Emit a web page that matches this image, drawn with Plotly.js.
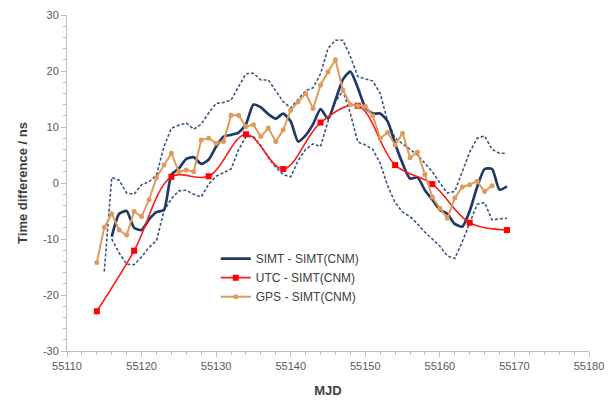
<!DOCTYPE html>
<html>
<head>
<meta charset="utf-8">
<script src="https://cdn.plot.ly/plotly-3.0.1.min.js"></script>
<style>html,body{margin:0;padding:0;background:#fff;}#chart{width:608px;height:411px;}</style>
</head>
<body>
<div id="chart"></div>
<script>
// SIMT - SIMT(CNM), daily from MJD 55116
const simtStart = 55116;
const simtValues = [-9.6,-5.5,-5.0,-8.0,-8.4,-6.5,-5.2,-4.8,1.5,2.6,4.3,4.6,3.4,4.2,6.5,8.3,8.6,9.0,10.5,14.0,13.5,12.3,11.5,12.4,11.0,7.4,8.5,10.5,13.2,11.5,14.8,18.5,19.9,17.0,13.5,12.4,12.4,11.0,7.0,3.5,0.8,1.0,-1.3,-3.0,-4.8,-5.5,-7.3,-7.8,-5.0,-0.7,2.5,2.5,-1.2,-0.6];

// upper dashed bound, daily from MJD 55115
const upperStart = 55115;
const upperValues = [-15.8,1.0,0.5,-1.8,-2.0,-0.3,0.2,1.4,6.5,9.8,10.3,10.7,9.6,10.5,12.5,14.2,14.4,14.8,17.2,19.5,19.6,18.4,18.4,16.5,14.5,13.4,15.0,16.5,17.0,19.5,24.0,25.5,25.5,22.6,19.0,18.6,18.2,16.0,11.0,8.0,7.0,5.9,5.0,3.5,2.0,0.0,-1.8,-1.5,2.0,5.5,8.0,8.4,6.0,5.3,5.3];

// lower dashed bound, daily from MJD 55116
const lowerStart = 55116;
const lowerValues = [-10.0,-12.5,-14.5,-14.6,-13.2,-11.5,-10.3,-5.0,-2.8,-1.4,-1.3,-2.0,-2.5,-0.2,1.2,1.8,2.5,5.9,8.3,8.3,6.7,4.5,2.8,1.5,1.1,4.0,6.0,7.0,6.5,11.0,14.5,16.5,12.4,7.3,6.8,6.0,3.5,-0.5,-3.5,-5.2,-6.0,-7.3,-8.8,-10.0,-11.3,-13.0,-13.5,-10.5,-7.0,-3.8,-3.5,-6.6,-6.4,-6.3];

// UTC - SIMT(CNM), every 5 days
const utcMjd = [55114,55119,55124,55129,55134,55139,55144,55149,55154,55159,55164,55169];
const utcValues = [-22.9,-12.1,1.1,1.2,8.7,2.5,10.8,13.8,3.2,-0.2,-7.1,-8.4];

// GPS - SIMT(CNM), daily from MJD 55114
const gpsStart = 55114;
const gpsValues = [-14.2,-7.9,-5.5,-8.4,-9.3,-5.1,-6.0,-3.0,1.0,3.2,5.3,2.0,2.3,2.0,7.7,8.0,7.1,7.4,12.1,12.1,10.1,10.4,8.3,9.8,7.4,9.5,13.0,14.5,16.0,13.3,17.5,19.8,22.0,16.6,14.0,13.8,13.7,12.0,8.0,9.0,6.8,8.9,4.5,5.5,1.5,-2.5,-4.5,-6.3,-2.7,-0.7,-0.3,0.3,-1.5,-0.5];

const seriesNames = ['SIMT - SIMT(CNM)','UTC - SIMT(CNM)','GPS - SIMT(CNM)'];

// axis ticks
const yTickVals = [-30,-20,-10,0,10,20,30];
const yTickText = ['-30','-20','-10','0','10','20','30'];
const xTickVals = [55110,55120,55130,55140,55150,55160,55170,55180];
const xTickText = ['55110','55120','55130','55140','55150','55160','55170','55180'];

function days(start, n){ const a=[]; for(let i=0;i<n;i++) a.push(start+i); return a; }

const navy = '#1f3a66';
const dashNavy = '#3a5583';
const traces = [
  {x: days(upperStart, upperValues.length), y: upperValues, mode:'lines', showlegend:false, hoverinfo:'skip',
   line:{color:dashNavy, width:1.6, dash:'3px,2px'}},
  {x: days(lowerStart, lowerValues.length), y: lowerValues, mode:'lines', showlegend:false, hoverinfo:'skip',
   line:{color:dashNavy, width:1.6, dash:'3px,2px'}},
  {x: days(simtStart, simtValues.length), y: simtValues, mode:'lines', name: seriesNames[0],
   line:{color:navy, width:2.7, shape:'spline', smoothing:0.6}},
  {x: utcMjd, y: utcValues, mode:'lines+markers', name: seriesNames[1],
   line:{color:'#ff1a1a', width:1.6, shape:'spline', smoothing:1},
   marker:{symbol:'square', size:6, color:'#ff0000'}},
  {x: days(gpsStart, gpsValues.length), y: gpsValues, mode:'lines+markers', name: seriesNames[2],
   line:{color:'#df9b5c', width:2},
   marker:{symbol:'circle', size:5, color:'#df9b5c'}}
];

const layout = {
  width:608, height:411,
  margin:{l:67, r:19, t:15, b:60},
  paper_bgcolor:'#ffffff', plot_bgcolor:'#ffffff',
  font:{family:'"Liberation Sans", Arial, sans-serif', color:'#595959', size:11},
  showlegend:true,
  legend:{x:0.285, y:0.318, xanchor:'left', yanchor:'top', bgcolor:'rgba(0,0,0,0)',
    font:{size:12, color:'#404040'}, tracegroupgap:0, itemwidth:30, traceorder:'normal'},
  xaxis:{range:[55110,55180], tickmode:'array', tickvals:xTickVals, ticktext:xTickText,
    showgrid:false, zeroline:false,
    showline:true, linecolor:'#bfbfbf', linewidth:1, ticks:'outside', ticklen:5, tickcolor:'#bfbfbf',
    tickfont:{size:11, color:'#595959'},
    minor:{dtick:2, tick0:55110, ticks:'outside', ticklen:3, tickcolor:'#bfbfbf', showgrid:false},
    title:{text:'<b>MJD</b>', font:{size:13, color:'#404040'}, standoff:14}},
  yaxis:{range:[-30,30], tickmode:'array', tickvals:yTickVals, ticktext:yTickText,
    showgrid:false, zeroline:false,
    showline:true, linecolor:'#bfbfbf', linewidth:1, ticks:'outside', ticklen:5, tickcolor:'#bfbfbf',
    tickfont:{size:11, color:'#595959'},
    minor:{dtick:2, tick0:0, ticks:'outside', ticklen:3, tickcolor:'#bfbfbf', showgrid:false},
    title:{text:'<b>Time difference / ns</b>', font:{size:13, color:'#404040'}, standoff:12}}
};

Plotly.newPlot('chart', traces, layout, {displayModeBar:false, staticPlot:true});
</script>
</body>
</html>
